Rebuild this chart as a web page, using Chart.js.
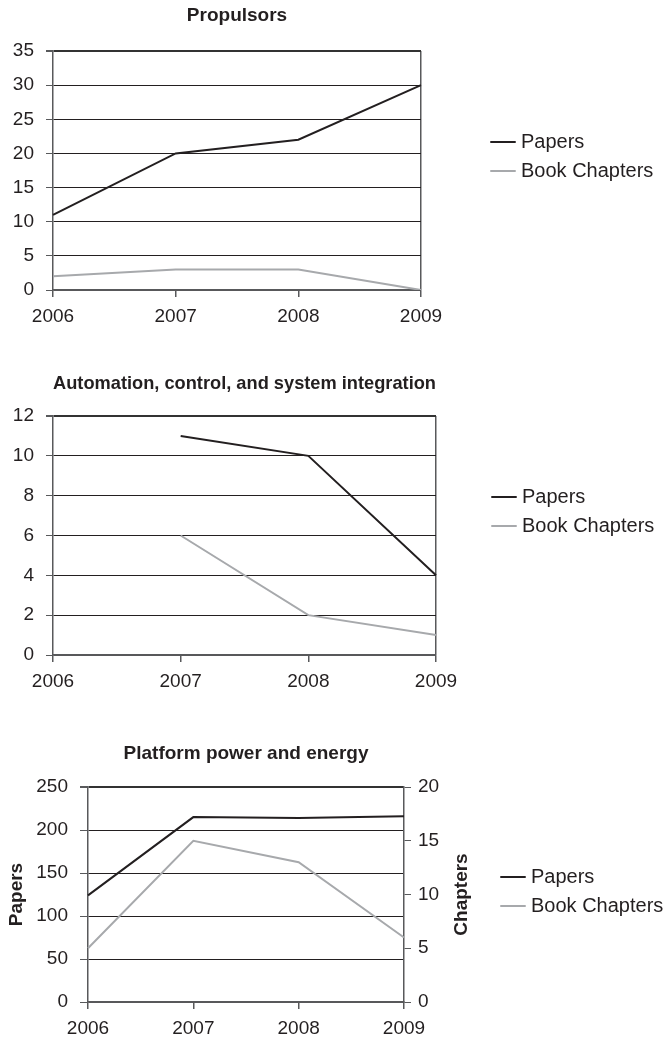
<!DOCTYPE html>
<html><head><meta charset="utf-8">
<script src="https://cdn.jsdelivr.net/npm/chart.js@4.4.1/dist/chart.umd.min.js"></script>
<style>
html,body{margin:0;padding:0;background:#fff;}
body{width:668px;height:1041px;position:relative;overflow:hidden;}
.box{position:absolute;left:0;width:668px;}
canvas{display:block;}
</style></head><body>
<div class="box" style="top:0px;height:330px"><canvas id="c1" width="668" height="330"></canvas></div>
<div class="box" style="top:360px;height:336px"><canvas id="c2" width="668" height="336"></canvas></div>
<div class="box" style="top:720px;height:321px"><canvas id="c3" width="668" height="321"></canvas></div>
<script>
// ---- data ----
const years = ['2006', '2007', '2008', '2009'];
const seriesNames = ['Papers', 'Book Chapters'];

const propulsorsTitle = 'Propulsors';
const propulsorsPapers = [11, 20, 22, 30];
const propulsorsChapters = [2, 3, 3, 0];

const automationTitle = 'Automation, control, and system integration';
const automationPapers = [null, 11, 10, 4];
const automationChapters = [null, 6, 2, 1];

const powerTitle = 'Platform power and energy';
const powerPapers = [124, 215, 214, 216];
const powerChapters = [5, 15, 13, 6];
const powerLeftAxisTitle = 'Papers';
const powerRightAxisTitle = 'Chapters';

// ---- styles ----
const FONT = "'Liberation Sans', Arial, Helvetica, sans-serif";
const INK = '#231f20';
const GREY = '#a7a9ac';
const AXIS = '#58595b';
const GRID = '#231f20';

Chart.defaults.font.family = FONT;
Chart.defaults.color = INK;
Chart.defaults.animation = false;

const tickFont = { family: FONT, size: 19 };
const titleFont = { family: FONT, size: 19, weight: 'bold' };
const legendFont = { family: FONT, size: 20 };
const axisTitleFont = { family: FONT, size: 19, weight: 'bold' };

// place the library legend at a given spot
const legendAt = {
  id: 'legendAt',
  afterLayout(chart, args, opts) {
    const lg = chart.legend;
    if (!lg || opts.x === undefined) return;
    const w = lg.width, h = lg.height;
    lg.left = opts.x; lg.top = opts.y;
    lg.right = opts.x + w; lg.bottom = opts.y + h;
  }
};

// right axis title reading bottom-to-top
const rightTitle = {
  id: 'rightTitle',
  afterDraw(chart, args, opts) {
    if (!opts.text) return;
    const s = chart.scales[opts.scale];
    const ctx = chart.ctx;
    ctx.save();
    ctx.translate(s.right - opts.offset, (s.top + s.bottom) / 2);
    ctx.rotate(-Math.PI / 2);
    ctx.font = 'bold ' + axisTitleFont.size + 'px ' + FONT;
    ctx.fillStyle = INK;
    ctx.textAlign = 'center';
    ctx.textBaseline = 'middle';
    ctx.fillText(opts.text, 0, 0);
    ctx.restore();
  }
};

function ds(label, data, color, axis) {
  const d = {
    label, data,
    borderColor: color, backgroundColor: color,
    borderWidth: 2, tension: 0,
    pointRadius: 0, pointHoverRadius: 0,
    pointBorderColor: color, pointBackgroundColor: color, pointBorderWidth: 2,
    spanGaps: false
  };
  if (axis) d.yAxisID = axis;
  return d;
}

function legendOpts() {
  return {
    display: true,
    position: 'chartArea',
    align: 'start',
    labels: {
      usePointStyle: true, pointStyle: 'line',
      boxWidth: 16, boxHeight: 18,
      padding: 9, font: legendFont, color: INK
    }
  };
}

function titleOpts(text, top, bottom) {
  return { display: true, text, font: titleFont, color: INK, fullSize: false,
           padding: { top, bottom } };
}

function yScale(max, step, width, pad, tl) {
  return {
    min: 0, max,
    ticks: { stepSize: step, padding: pad, color: INK, font: tickFont },
    grid: {
      color: c => (c.tick && c.tick.value === 0) ? AXIS : (c.tick && c.tick.value === max ? '#333' : GRID),
      lineWidth: c => (c.tick && c.tick.value === max) ? 2 : 1,
      tickLength: tl, tickColor: AXIS
    },
    border: { color: AXIS, width: 1.5 },
    afterFit: s => { s.width = width; }
  };
}

function xScale(height, showRight) {
  return {
    offset: false,
    ticks: { padding: 8, color: INK, font: tickFont, maxRotation: 0, autoSkip: false },
    grid: {
      color: c => (showRight && c.index === years.length - 1) ? AXIS : 'rgba(0,0,0,0)',
      lineWidth: 1.5,
      tickLength: 7, tickColor: AXIS
    },
    border: { color: AXIS, width: 1.5 },
    afterFit: s => { s.height = height; }
  };
}

// ---- chart 1 ----
new Chart(document.getElementById('c1'), {
  type: 'line',
  data: {
    labels: years,
    datasets: [
      ds(seriesNames[0], propulsorsPapers, INK),
      ds(seriesNames[1], propulsorsChapters, GREY)
    ]
  },
  options: {
    responsive: false, events: [],
    layout: { padding: { left: 0, top: 0, right: 247, bottom: 0 } },
    plugins: {
      title: titleOpts(propulsorsTitle, 4.6, 23.6),
      legend: legendOpts(),
      legendAt: { x: 486, y: 123 },
      tooltip: { enabled: false }
    },
    scales: { x: xScale(40, true), y: yScale(35, 5, 53, 12, 7) }
  },
  plugins: [legendAt]
});

// ---- chart 2 ----
new Chart(document.getElementById('c2'), {
  type: 'line',
  data: {
    labels: years,
    datasets: [
      ds(seriesNames[0], automationPapers, INK),
      ds(seriesNames[1], automationChapters, GREY)
    ]
  },
  options: {
    responsive: false, events: [],
    layout: { padding: { left: 0, top: 0, right: 232, bottom: 0 } },
    plugins: {
      title: titleOpts(automationTitle, 12.6, 20.6),
      legend: legendOpts(),
      legendAt: { x: 487, y: 118 },
      tooltip: { enabled: false }
    },
    scales: { x: xScale(41, true), y: yScale(12, 2, 53, 12, 7) }
  },
  plugins: [legendAt]
});

// ---- chart 3 ----
const y3 = yScale(250, 50, 88, 12, 8);
y3.title = { display: true, text: powerLeftAxisTitle, font: axisTitleFont,
             color: INK, padding: { top: 5.6, bottom: 0 } };
const y3r = {
  position: 'right', min: 0, max: 20,
  ticks: { stepSize: 5, padding: 7, color: INK, font: tickFont },
  grid: { drawOnChartArea: false, tickLength: 7, tickColor: AXIS },
  border: { color: AXIS, width: 1.5 },
  afterFit: s => { s.width = 70; }
};
new Chart(document.getElementById('c3'), {
  type: 'line',
  data: {
    labels: years,
    datasets: [
      ds(seriesNames[0], powerPapers, INK, 'y'),
      ds(seriesNames[1], powerChapters, GREY, 'y2')
    ]
  },
  options: {
    responsive: false, events: [],
    layout: { padding: { left: 0, top: 0, right: 194, bottom: 0 } },
    plugins: {
      title: titleOpts(powerTitle, 22.1, 22.1),
      legend: legendOpts(),
      legendAt: { x: 496, y: 138 },
      rightTitle: { text: powerRightAxisTitle, scale: 'y2', offset: 12 },
      tooltip: { enabled: false }
    },
    scales: { x: xScale(39, false), y: y3, y2: y3r }
  },
  plugins: [legendAt, rightTitle]
});
</script>
</body></html>
